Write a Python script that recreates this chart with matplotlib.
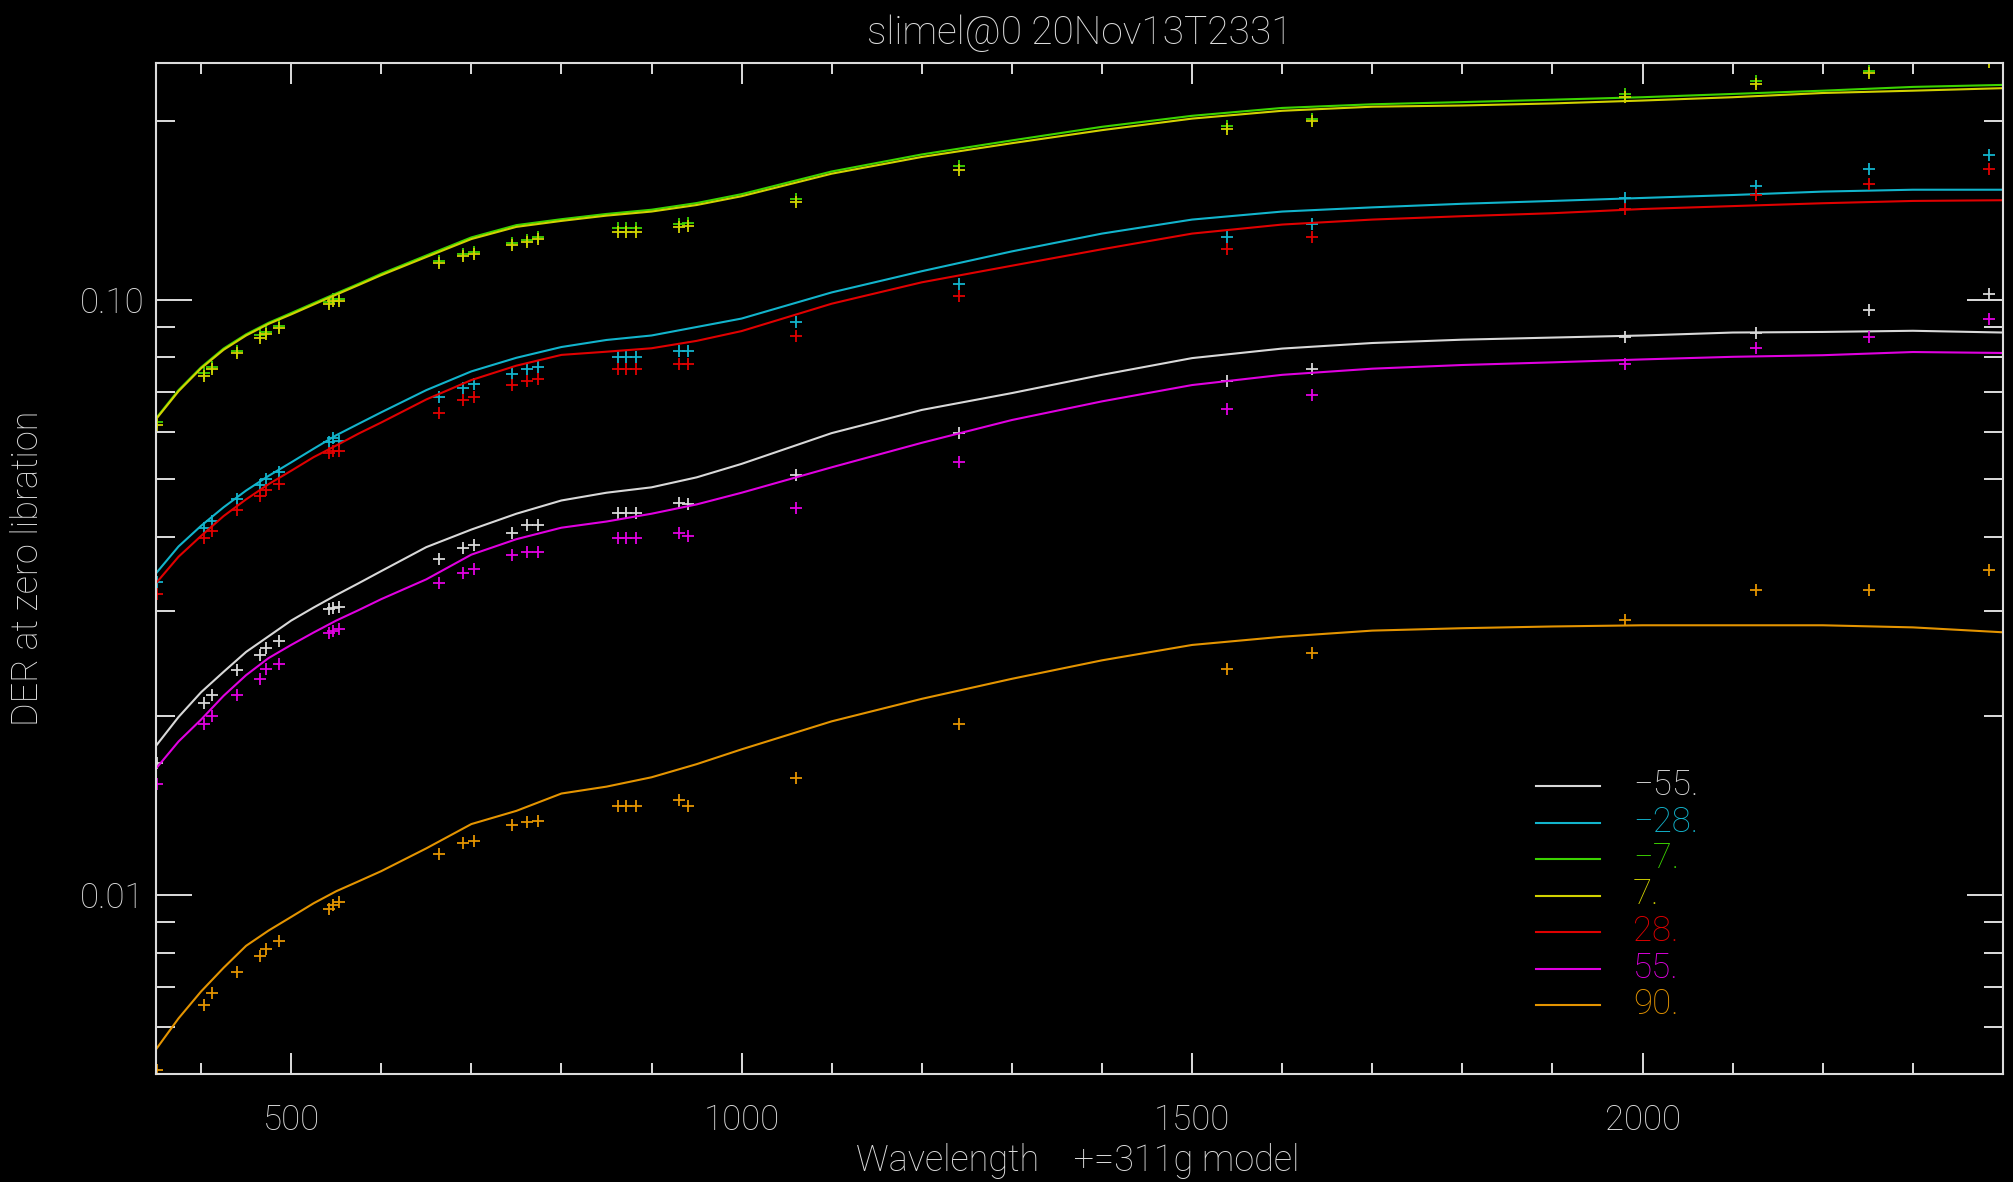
import matplotlib
matplotlib.use("Agg")
import matplotlib.pyplot as plt
from matplotlib.ticker import MultipleLocator, LogLocator, FixedLocator, FixedFormatter, NullFormatter

# model curves (wavelength grid + one DER series per latitude)
wl_model = [350, 375, 400, 425, 450, 475, 500, 525, 550, 575, 600, 650, 700, 750, 800, 850, 900, 950, 1000,
            1100, 1200, 1300, 1400, 1500, 1600, 1700, 1800, 1900, 2000, 2100, 2200, 2300, 2400]
m55 = [0.0178, 0.0199, 0.0219, 0.0237, 0.0256, 0.0272, 0.0289, 0.0304, 0.0319, 0.0334, 0.0350, 0.0384, 0.0411, 0.0437, 0.0460, 0.0474, 0.0484, 0.0503, 0.0530,
       0.0597, 0.0653, 0.0697, 0.0748, 0.0798, 0.0828, 0.0846, 0.0857, 0.0864, 0.0871, 0.0881, 0.0883, 0.0887, 0.0881]
m28 = [0.0347, 0.0385, 0.0417, 0.0448, 0.0478, 0.0506, 0.0533, 0.0562, 0.0592, 0.0619, 0.0647, 0.0705, 0.0758, 0.0799, 0.0833, 0.0856, 0.0871, 0.0900, 0.0930,
       0.1029, 0.1117, 0.1206, 0.1292, 0.1364, 0.1407, 0.1430, 0.1450, 0.1466, 0.1483, 0.1500, 0.1520, 0.1531, 0.1531]
m7 = [0.0632, 0.0705, 0.0770, 0.0828, 0.0875, 0.0915, 0.0950, 0.0987, 0.1025, 0.1064, 0.1106, 0.1187, 0.1273, 0.1335, 0.1366, 0.1394, 0.1417, 0.1454, 0.1505,
      0.1643, 0.1755, 0.1853, 0.1953, 0.2038, 0.2101, 0.2131, 0.2149, 0.2169, 0.2190, 0.2218, 0.2246, 0.2279, 0.2297]
p7 = [0.0630, 0.0702, 0.0767, 0.0824, 0.0871, 0.0911, 0.0945, 0.0982, 0.1020, 0.1059, 0.1100, 0.1180, 0.1265, 0.1326, 0.1357, 0.1385, 0.1407, 0.1443, 0.1493,
      0.1629, 0.1738, 0.1833, 0.1928, 0.2016, 0.2078, 0.2111, 0.2121, 0.2138, 0.2162, 0.2190, 0.2226, 0.2246, 0.2268]
p28 = [0.0334, 0.0370, 0.0401, 0.0433, 0.0462, 0.0490, 0.0516, 0.0544, 0.0569, 0.0596, 0.0622, 0.0680, 0.0733, 0.0775, 0.0808, 0.0818, 0.0829, 0.0853, 0.0886,
       0.0985, 0.1070, 0.1141, 0.1216, 0.1292, 0.1338, 0.1364, 0.1382, 0.1398, 0.1421, 0.1437, 0.1453, 0.1466, 0.1470]
p55 = [0.0163, 0.0181, 0.0197, 0.0216, 0.0234, 0.0250, 0.0263, 0.0276, 0.0289, 0.0301, 0.0314, 0.0339, 0.0373, 0.0396, 0.0414, 0.0424, 0.0437, 0.0453, 0.0474,
       0.0523, 0.0575, 0.0628, 0.0675, 0.0719, 0.0748, 0.0766, 0.0777, 0.0785, 0.0794, 0.0802, 0.0807, 0.0817, 0.0814]
p90 = [0.00550, 0.00620, 0.00688, 0.00754, 0.00821, 0.00871, 0.00918, 0.00968, 0.01014, 0.01054, 0.01096, 0.01197, 0.01315, 0.01384, 0.01480, 0.01520, 0.01576, 0.01658, 0.01756,
       0.01957, 0.02135, 0.02307, 0.02478, 0.02630, 0.02715, 0.02780, 0.02806, 0.02825, 0.02838, 0.02838, 0.02838, 0.02815, 0.02762]

# 311g model points ("+")
wl_pts = [351, 403, 412, 440, 465, 472, 486, 542, 547, 553, 664, 691, 703, 745, 762, 774, 863, 872, 883, 931, 941, 1060, 1241, 1539, 1633, 1980, 2126, 2251, 2384]
pt_m55 = [0.01665, 0.0210, 0.02166, 0.02384, 0.0253, 0.0260, 0.02674, 0.0302, 0.0304, 0.0305, 0.0367, 0.0383, 0.0387, 0.0406, 0.0419, 0.0419, 0.0439, 0.0439, 0.0439, 0.0455, 0.0453, 0.0508, 0.0597, 0.0730, 0.0766, 0.0867, 0.0880, 0.0962, 0.1024]
pt_m28 = [0.0336, 0.0414, 0.0425, 0.0462, 0.0488, 0.0500, 0.0514, 0.0577, 0.0585, 0.0580, 0.0687, 0.0712, 0.0721, 0.0750, 0.0765, 0.0770, 0.0800, 0.0800, 0.0800, 0.0819, 0.0819, 0.0918, 0.1063, 0.1277, 0.1340, 0.1483, 0.1554, 0.1658, 0.1754]
pt_m7 = [0.0622, 0.0752, 0.0772, 0.0820, 0.0872, 0.0884, 0.0905, 0.0990, 0.1005, 0.1005, 0.1162, 0.1196, 0.1203, 0.1248, 0.1262, 0.1275, 0.1318, 0.1318, 0.1318, 0.1340, 0.1345, 0.1478, 0.1675, 0.1960, 0.2015, 0.2215, 0.2330, 0.2420, 0.2540]
pt_p7 = [0.0615, 0.0744, 0.0765, 0.0813, 0.0863, 0.0876, 0.0897, 0.0982, 0.0997, 0.0997, 0.1151, 0.1186, 0.1193, 0.1238, 0.1252, 0.1264, 0.1302, 0.1302, 0.1302, 0.1324, 0.1333, 0.1460, 0.1650, 0.1939, 0.1998, 0.2194, 0.2308, 0.2406, 0.2510]
pt_p28 = [0.0320, 0.0398, 0.0409, 0.0443, 0.0468, 0.0479, 0.0490, 0.0553, 0.0556, 0.0558, 0.0645, 0.0678, 0.0687, 0.0719, 0.0729, 0.0735, 0.0765, 0.0765, 0.0765, 0.0780, 0.0780, 0.0868, 0.1014, 0.1216, 0.1277, 0.1422, 0.1498, 0.1568, 0.1658]
pt_p55 = [0.01538, 0.01937, 0.01997, 0.02166, 0.02307, 0.02394, 0.02447, 0.02756, 0.0278, 0.0280, 0.0334, 0.0348, 0.0353, 0.0372, 0.0377, 0.0377, 0.0398, 0.0398, 0.0398, 0.0406, 0.0401, 0.0446, 0.0534, 0.0655, 0.0691, 0.0781, 0.0829, 0.0867, 0.0930]
pt_p90 = [0.00508, 0.00654, 0.00683, 0.00742, 0.0079, 0.0081, 0.00837, 0.00946, 0.0096, 0.00974, 0.01169, 0.01224, 0.01233, 0.0131, 0.01324, 0.01333, 0.0141, 0.0141, 0.0141, 0.01442, 0.0141, 0.0157, 0.01934, 0.0240, 0.0255, 0.0290, 0.0325, 0.0325, 0.0351]

labels = ["\u221255.", "\u221228.", "\u22127.", "7.", "28.", "55.", "90."]
colors = ["#D8D8D8", "#12B4CC", "#3CD400", "#D2D200", "#E00000", "#E000E0", "#E49400"]
curves = [m55, m28, m7, p7, p28, p55, p90]
points = [pt_m55, pt_m28, pt_m7, pt_p7, pt_p28, pt_p55, pt_p90]

FG = "#DCDCDC"


def main():
	plt.rcParams['font.family'] = ['Roboto', 'DejaVu Sans']
	plt.rcParams['font.weight'] = 'light'
	fig = plt.figure(figsize=(20.13, 11.82), dpi=100, facecolor="black")
	ax = fig.add_axes([0.0775, 0.0914, 0.9175, 0.8553])
	ax.set_facecolor("black")

	for ys, ps, c in zip(curves, points, colors):
		ax.plot(wl_model, ys, color=c, lw=1.5)
		ax.plot(wl_pts, ps, '+', color=c, ms=8.5, mew=1.3, clip_on=True)

	ax.set_yscale('log')
	ax.set_xlim(350, 2400)
	ax.set_ylim(0.005, 0.25)

	ax.xaxis.set_major_locator(MultipleLocator(500))
	ax.xaxis.set_minor_locator(MultipleLocator(100))
	ax.yaxis.set_major_locator(FixedLocator([0.01, 0.1]))
	ax.yaxis.set_major_formatter(FixedFormatter(["0.01", "0.10"]))
	ax.yaxis.set_minor_locator(LogLocator(base=10, subs=range(2, 10)))
	ax.yaxis.set_minor_formatter(NullFormatter())

	for s in ax.spines.values():
		s.set_color(FG)
		s.set_linewidth(1.5)
	ax.tick_params(which='both', direction='in', top=True, right=True, colors=FG, width=1.4)
	ax.tick_params(axis='x', which='major', length=15, pad=21, labelsize=25)
	ax.tick_params(axis='x', which='minor', length=8)
	ax.tick_params(axis='y', which='major', length=26, pad=8, labelsize=25)
	ax.tick_params(axis='y', which='minor', length=14)

	fig.text(1080 / 2013, 1 - 44 / 1182, "slimel@0 20Nov13T2331", color=FG, fontsize=28, ha='center', va='baseline')
	fig.text(1078 / 2013, 1 - 1171 / 1182, "Wavelength    +=311g model", color=FG, fontsize=26, ha='center', va='baseline')
	fig.text(28 / 2013, 1 - 568 / 1182, "DER at zero libration", color=FG, fontsize=26, rotation=90, ha='center', va='center')

	# legend, IDL style: short line then coloured label
	for i in range(len(labels)):
		yl = 786 + i * 36.5
		fig.add_artist(plt.Line2D([1536 / 2013, 1600 / 2013], [1 - yl / 1182, 1 - yl / 1182], color=colors[i], lw=1.5))
		fig.text(1633 / 2013, 1 - (yl + 9) / 1182, labels[i], color=colors[i], fontsize=25, ha='left', va='baseline')

	fig.savefig("out.png", dpi=100, facecolor="black")


if __name__ == "__main__":
	main()
